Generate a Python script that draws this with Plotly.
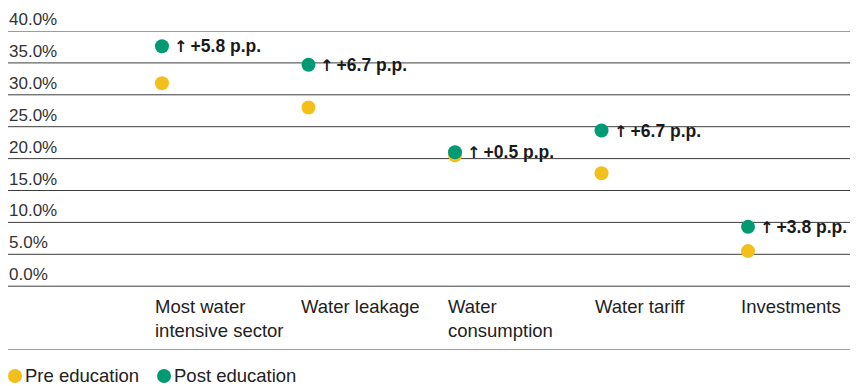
import plotly.graph_objects as go

# Survey results: share of correct answers before and after the education session
categories = [
    "Most water<br>intensive sector",
    "Water leakage",
    "Water<br>consumption",
    "Water tariff",
    "Investments",
]
pre_education = [31.8, 28.0, 20.5, 17.7, 5.5]
post_education = [37.6, 34.7, 21.0, 24.4, 9.3]
y_ticks = [0, 5, 10, 15, 20, 25, 30, 35, 40]
y_tick_labels = ["0.0%", "5.0%", "10.0%", "15.0%", "20.0%", "25.0%", "30.0%", "35.0%", "40.0%"]
series_names = ["Pre education", "Post education"]

YELLOW = "#F3BF1B"
GREEN = "#009B74"
FONT = "Liberation Sans, Arial, sans-serif"
TEXT = "#222222"
LINE = "#3d3d3d"

fig = go.Figure()

fig.add_trace(go.Scatter(
    x=categories, y=pre_education, mode="markers", name=series_names[0],
    marker=dict(color=YELLOW, size=14, line=dict(width=0)),
    showlegend=False, hoverinfo="skip",
))
fig.add_trace(go.Scatter(
    x=categories, y=post_education, mode="markers", name=series_names[1],
    marker=dict(color=GREEN, size=14, line=dict(width=0)),
    showlegend=False, hoverinfo="skip",
))

shapes = []
annotations = []

# horizontal rules at each tick plus the closing rule under the category labels
for v in y_ticks + [-10]:
    shapes.append(dict(type="line", xref="paper", yref="y", x0=0, x1=1, y0=v, y1=v,
                       line=dict(color=LINE, width=1), layer="below"))

# tick labels sit just above their rule
for v, lab in zip(y_ticks, y_tick_labels):
    annotations.append(dict(xref="paper", yref="y", x=0, y=v, text=lab,
                            xanchor="left", yanchor="bottom", showarrow=False,
                            yshift=1, borderpad=0,
                            font=dict(family=FONT, size=17, color="#333333")))

# category labels, left aligned just left of each dot
for i, cat in enumerate(categories):
    annotations.append(dict(xref="x", yref="y", x=i, y=0, text=cat,
                            xanchor="left", yanchor="top", align="left",
                            showarrow=False, xshift=-8, yshift=-9, borderpad=0,
                            font=dict(family=FONT, size=18.5, color=TEXT)))

# change in percentage points next to each post-education dot
ARROW = '<span style="font-family:DejaVu Sans;font-size:16px">↑\u2009</span>'
for i, (a, b) in enumerate(zip(pre_education, post_education)):
    annotations.append(dict(xref="x", yref="y", x=i, y=b,
                            text=f"<b>{ARROW}+{round(b - a, 1):.1f} p.p.</b>",
                            xanchor="left", yanchor="middle", showarrow=False,
                            xshift=11, borderpad=0,
                            font=dict(family=FONT, size=17.5, color="#1a1a1a")))

# legend drawn as dot + label pairs below the chart
legend_items = [(series_names[0], YELLOW, 0.0), (series_names[1], GREEN, 0.1770)]
for name, color, px in legend_items:
    shapes.append(dict(type="circle", xref="paper", yref="paper",
                       xsizemode="pixel", ysizemode="pixel",
                       xanchor=px, yanchor=-0.0815,
                       x0=0, x1=14, y0=-7, y1=7,
                       fillcolor=color, line=dict(width=0)))
    annotations.append(dict(xref="paper", yref="paper", x=px, y=-0.0815, text=name,
                            xanchor="left", yanchor="middle", showarrow=False,
                            xshift=16, borderpad=0,
                            font=dict(family=FONT, size=18.5, color=TEXT)))

fig.update_layout(
    width=859, height=386,
    margin=dict(l=8, r=9, t=31, b=36),
    paper_bgcolor="white", plot_bgcolor="white",
    xaxis=dict(type="category", range=[-1.051, 4.696], visible=False, fixedrange=True),
    yaxis=dict(range=[-10, 40], visible=False, showgrid=False, zeroline=False, fixedrange=True),
    shapes=shapes, annotations=annotations,
    showlegend=False,
)

fig.write_html("out.html")
